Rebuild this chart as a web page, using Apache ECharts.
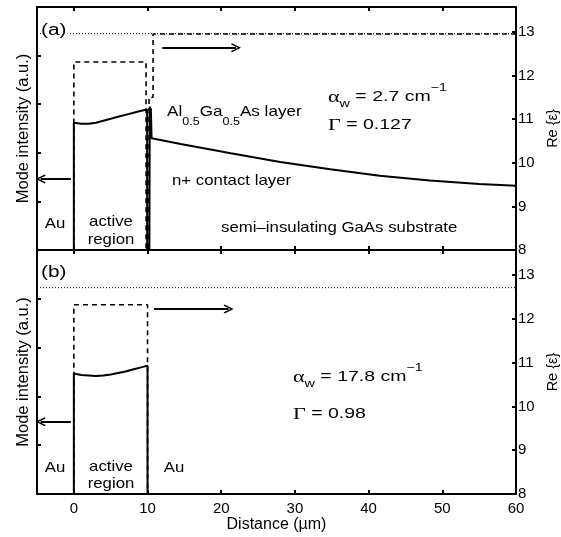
<!DOCTYPE html>
<html>
<head>
    <meta charset="UTF-8">
    <title>Mode intensity and Re(eps)</title>
    <script src="https://cdn.jsdelivr.net/npm/echarts@6/dist/echarts.min.js"></script>
    <style>body{margin:0;background:#fff;}</style>
</head>
<body>
    <div id="main" style="width: 561px;height:537px;"></div>
    <script type="text/javascript">
        // x in micrometres, mode intensity on the left axis (a.u.), Re{eps} on the right
        var modeA = [[-5,0],[0,0],[0,2.62],[1,2.60],[2,2.60],[3,2.62],[4,2.66],[5,2.70],[6,2.74],[7,2.78],[8,2.82],[9,2.86],[9.95,2.89],[9.95,0],[10.25,0],[10.3,2.95],[10.45,2.9],[10.55,2.3],[14.5,2.18],[21.3,1.99],[28,1.81],[34.8,1.66],[41.5,1.53],[48.3,1.43],[55,1.36],[60,1.32]];
        var epsA = [[-5,7],[0,7],[0,12.31],[9.8,12.31],[9.8,7],[10.2,7],[10.2,11.5],[10.75,11.5],[10.75,12.95],[60,12.95]];
        var neffA = [[-5,12.96],[60,12.96]];

        var modeB = [[-5,0],[0,0],[0,2.47],[1,2.44],[2,2.43],[3,2.42],[4,2.43],[5,2.45],[6,2.48],[7,2.51],[8,2.55],[9,2.59],[10,2.63],[10,0],[60,0]];
        var epsB = [[-5,7],[0,7],[0,12.32],[10,12.32],[10,7],[60,7]];
        var neffB = [[-5,12.71],[60,12.71]];

        var arrowsA = [[[-0.4,1.46],[-4.5,1.46]], [[12,4.16],[22,4.16]]];
        var arrowsB = [[[-0.4,1.48],[-4.5,1.48]], [[10.9,3.79],[21,3.79]]];

        var xTicks = [0, 10, 20, 30, 40, 50, 60];
        var epsTicks = [8, 9, 10, 11, 12, 13];

        var myChart = echarts.init(document.getElementById('main'));
        var sans = 'Liberation Sans, Arial, sans-serif';
        var serif = 'Liberation Serif, Times New Roman, serif';

        function xAx(grid, pos, labels) {
            return {
                type: 'value', gridIndex: grid, position: pos, min: -5, max: 60,
                axisLine: { onZero: false, lineStyle: { color: '#000', width: 2 } },
                axisTick: { inside: true, length: 4, lineStyle: { width: 2 } },
                splitLine: { show: false },
                axisLabel: {
                    show: labels, color: '#000', fontSize: 15, fontFamily: sans, margin: 7,
                    formatter: function (v) { return xTicks.indexOf(v) >= 0 ? String(v) : ''; }
                },
                name: labels ? 'Distance (\u00b5m)' : '',
                nameLocation: 'middle', nameGap: 22,
                nameTextStyle: { color: '#000', fontSize: 16, fontFamily: sans }
            };
        }
        function leftAx(grid) {
            return {
                type: 'value', gridIndex: grid, position: 'left', min: 0, max: 5, interval: 1,
                axisLine: { onZero: false, lineStyle: { color: '#000', width: 2 } },
                axisTick: { inside: true, length: 4, lineStyle: { width: 2 } },
                axisLabel: { show: false },
                splitLine: { show: false },
                name: 'Mode intensity (a.u.)', nameLocation: 'middle', nameGap: 5, nameRotate: 90,
                nameTextStyle: { color: '#000', fontSize: 16.5, fontFamily: sans }
            };
        }
        function rightAx(grid) {
            return {
                type: 'value', gridIndex: grid, position: 'right', min: 8, max: 13.57, interval: 1,
                axisLine: { onZero: false, lineStyle: { color: '#000', width: 2 } },
                axisTick: { inside: true, length: 4, lineStyle: { width: 2 } },
                axisLabel: {
                    color: '#000', fontSize: 15, fontFamily: sans, margin: 2,
                    formatter: function (v) { return epsTicks.indexOf(v) >= 0 ? String(v) : ''; }
                },
                splitLine: { show: false },
                name: 'Re {\u03b5}', nameLocation: 'middle', nameGap: 27, nameRotate: 90,
                nameTextStyle: { color: '#000', fontSize: 14.5, fontFamily: sans }
            };
        }
        var arrowHead = 'path://M5,0 L10,9 L8.6,10 L5,3 L1.4,10 L0,9 Z';
        function arrowMarks(list) {
            return {
                silent: true, animation: false,
                symbol: ['none', arrowHead], symbolSize: [9, 10],
                label: { show: false },
                lineStyle: { color: '#000', width: 2, type: 'solid' },
                data: list.map(function (a) { return [{ coord: a[0] }, { coord: a[1] }]; })
            };
        }
        function solid(data, g, arrows) {
            return { type: 'line', data: data, xAxisIndex: g * 2, yAxisIndex: g * 2, showSymbol: false,
                lineStyle: { color: '#000', width: 2 }, markLine: arrowMarks(arrows), z: 3 };
        }
        function dashed(data, g) {
            return { type: 'line', data: data, xAxisIndex: g * 2, yAxisIndex: g * 2 + 1, showSymbol: false,
                lineStyle: { color: '#000', width: 1.6, type: [5, 4] } };
        }
        function dotted(data, g) {
            return { type: 'line', data: data, xAxisIndex: g * 2, yAxisIndex: g * 2 + 1, showSymbol: false,
                lineStyle: { color: '#000', width: 1, type: [1, 2] } };
        }

        // plain annotation, slightly widened like the original's lettering
        function txt(x, y, text, align) {
            return { type: 'text', z: 100, x: x, y: y, scaleX: 1.12,
                style: { text: text, fill: '#000', font: '15px ' + sans,
                    align: align || 'left', verticalAlign: 'middle' } };
        }
        var richStyle = {
            g: { fontFamily: serif, fontSize: 17, lineHeight: 16, padding: [7, 0, 0, 0], verticalAlign: 'top' },
            m: { fontFamily: sans, fontSize: 15, lineHeight: 16, padding: [7, 0, 0, 0], verticalAlign: 'top' },
            sub: { fontFamily: sans, fontSize: 11, lineHeight: 10, padding: [16, 0, 0, 0], verticalAlign: 'top' },
            sup: { fontFamily: sans, fontSize: 11, lineHeight: 11, verticalAlign: 'top' }
        };
        var richAl = {
            m: { fontFamily: sans, fontSize: 15, lineHeight: 16, verticalAlign: 'top' },
            sub: { fontFamily: sans, fontSize: 11, lineHeight: 10, padding: [12, 0, 0, 0], verticalAlign: 'top' }
        };
        function richTxt(x, top, text, rich, sx) {
            return { type: 'text', z: 100, x: x, y: top, scaleX: sx,
                style: { text: text, fill: '#000', verticalAlign: 'top', align: 'left', rich: rich } };
        }
        function panelTag(x, y, text, bg) {
            return { type: 'text', z: 100, x: x, y: y, scaleX: 1.3,
                style: { text: text, fill: '#000', font: '16px ' + sans, verticalAlign: 'middle',
                    backgroundColor: bg ? '#fff' : 'transparent', padding: [0, 1, 0, 0] } };
        }

        var option = {
            animation: false,
            grid: [
                { left: 37, top: 7, width: 479, height: 243, outerBoundsMode: 'none' },
                { left: 37, top: 250, width: 479, height: 244, outerBoundsMode: 'none' }
            ],
            xAxis: [xAx(0, 'bottom', false), xAx(0, 'top', false), xAx(1, 'bottom', true), xAx(1, 'top', false)],
            yAxis: [leftAx(0), rightAx(0), leftAx(1), rightAx(1)],
            series: [
                dotted(neffA, 0), dashed(epsA, 0), solid(modeA, 0, arrowsA),
                dotted(neffB, 1), dashed(epsB, 1), solid(modeB, 1, arrowsB)
            ],
            graphic: [
                panelTag(41, 31, '(a)', true),
                panelTag(41, 273, '(b)', false),
                richTxt(167, 104, '{m|Al}{sub|0.5}{m|Ga}{sub|0.5}{m|As layer}', richAl, 1.14),
                richTxt(328, 82, '{g|\u03b1}{sub|w}{m| = 2.7 cm}{sup|\u22121}', richStyle, 1.3),
                richTxt(328, 110, '{g|\u0393}{m| = 0.127}', richStyle, 1.3),
                txt(172, 181, 'n+ contact layer'),
                txt(221, 228, 'semi\u2013insulating GaAs substrate'),
                txt(55, 224, 'Au', 'center'),
                txt(111, 222, 'active', 'center'),
                txt(111, 240, 'region', 'center'),
                richTxt(293, 362, '{g|\u03b1}{sub|w}{m| = 17.8 cm}{sup|\u22121}', richStyle, 1.3),
                richTxt(293, 399, '{g|\u0393}{m| = 0.98}', richStyle, 1.3),
                txt(55, 468, 'Au', 'center'),
                txt(111, 467, 'active', 'center'),
                txt(111, 484, 'region', 'center'),
                txt(174, 468, 'Au', 'center')
            ]
        };

        myChart.setOption(option);
    </script>
</body>
</html>
